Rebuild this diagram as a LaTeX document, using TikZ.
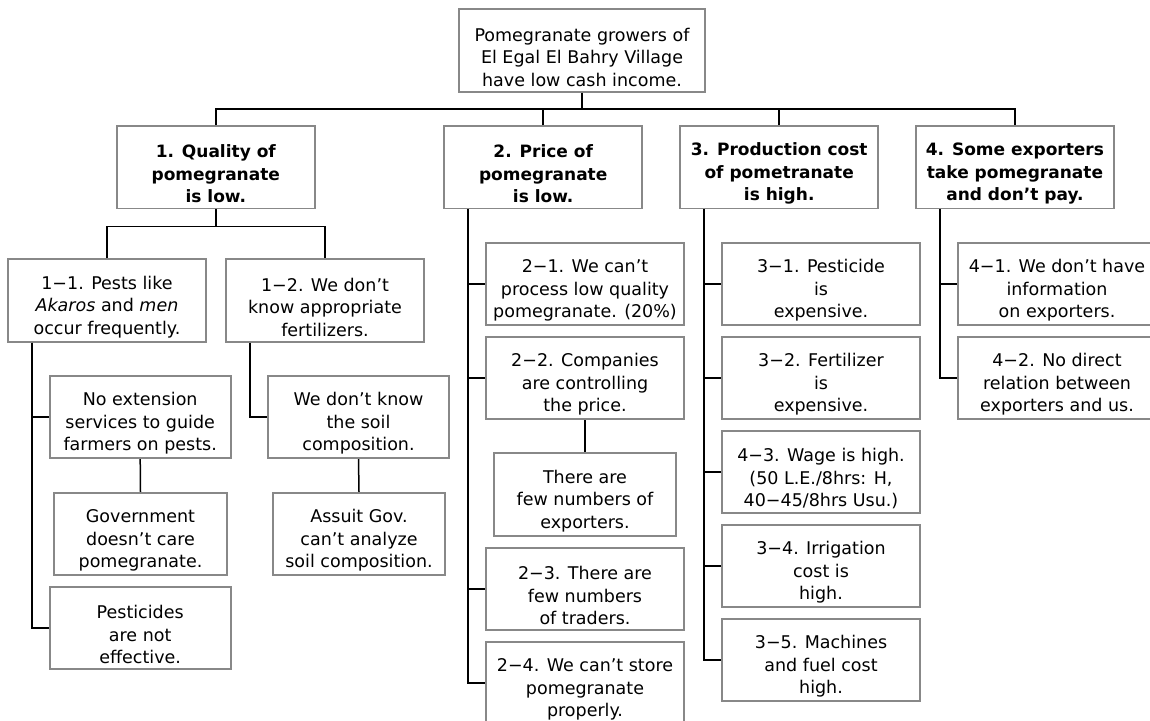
\documentclass[tikz,border=0pt]{standalone}
\usepackage{fontspec}
\setmainfont{DejaVu Sans}
\definecolor{boxgray}{RGB}{136,136,136}
\tikzset{
  box/.style={draw=boxgray, line width=1.7pt, fill=white, inner sep=0pt,
    minimum width=198pt, minimum height=82.5pt},
  txt/.style={align=center, inner sep=0pt, font=\fontsize{17.5}{22.5}\selectfont},
  headtxt/.style={txt, font=\fontsize{17}{22.5}\selectfont\bfseries},
  conn/.style={draw=black, line width=1.5pt}
}
% \tb[box options]{name}{position}{text style}{text}
\newcommand\tb[5][]{%
  \node[box,#1] (#2) at (#3) {};
  \node[#4] (#2-t) at ([yshift=-6.5pt]#2.center) {#5};}
\begin{document}
\begin{tikzpicture}[x=1pt,y=-1pt]
\useasboundingbox (0,0) rectangle (1150,720);
\clip (0,0) rectangle (1150,720);
% top
\tb[minimum width=246.6pt]{top}{582,50.5}{txt}{Pomegranate growers of\\El Egal El Bahry Village\\have low cash income.}
% level 1
\tb{b1}{215.8,167.2}{headtxt}{1. Quality of\\pomegranate\\is low.}
\tb{b2}{543.2,167.2}{headtxt}{2. Price of\\pomegranate\\is low.}
\tb{b3}{779.2,167.2}{headtxt}{3. Production cost\\of pometranate\\is high.}
\tb{b4}{1014.9,167.2}{headtxt}{4. Some exporters\\take pomegranate\\and don’t pay.}
% branch 1
\tb{c11}{107,300.5}{txt}{1−1. Pests like\\\textit{Akaros} and \textit{men}\\occur frequently.}
\tb{c12}{325,300.5}{txt}{1−2. We don’t\\know appropriate\\fertilizers.}
\tb[minimum width=181pt]{ext}{140.2,417}{txt}{No extension\\services to guide\\farmers on pests.}
\tb[minimum width=173pt]{gov}{140.5,534}{txt}{Government\\doesn’t care\\pomegranate.}
\tb[minimum width=181pt]{pest}{140.2,628}{txt}{Pesticides\\are not\\effective.}
\tb[minimum width=181pt]{soil}{358.5,417}{txt}{We don’t know\\the soil\\composition.}
\tb[minimum width=172pt]{assuit}{359,534}{txt}{Assuit Gov.\\can’t analyze\\soil composition.}
% branch 2
\tb{c21}{585,284}{txt}{2−1. We can’t\\process low quality\\pomegranate. (20\%)}
\tb{c22}{585,378}{txt}{2−2. Companies\\are controlling\\the price.}
\tb[minimum width=182pt]{exp}{585,494.5}{txt}{There are\\few numbers of\\exporters.}
\tb{c23}{585,589}{txt}{2−3. There are\\few numbers\\of traders.}
\tb{c24}{585,683}{txt}{2−4. We can’t store\\pomegranate\\properly.}
% branch 3
\tb{c31}{821,284}{txt}{3−1. Pesticide\\is\\expensive.}
\tb{c32}{821,378}{txt}{3−2. Fertilizer\\is\\expensive.}
\tb{c33}{821,472}{txt}{4−3. Wage is high.\\(50 L.E./8hrs: H,\\40−45/8hrs Usu.)}
\tb{c34}{821,566}{txt}{3−4. Irrigation\\cost is\\high.}
\tb{c35}{821,660}{txt}{3−5. Machines\\and fuel cost\\high.}
% branch 4
\tb{c41}{1057,284}{txt}{4−1. We don’t have\\information\\on exporters.}
\tb{c42}{1057,378}{txt}{4−2. No direct\\relation between\\exporters and us.}
% connectors
\draw[conn] (top.south) -- ++(0,16.6) coordinate (j0);
\draw[conn] (b1.north) |- (j0);
\draw[conn] (b2.north) |- (j0);
\draw[conn] (b3.north) |- (j0) -- (b4.north |- j0) -- (b4.north);
\draw[conn] (b1.south) -- ++(0,17.4) coordinate (j1);
\draw[conn] (c11.north) |- (j1) -| (c12.north);
\draw[conn] ([xshift=-75pt]c11.south) |- (ext.west);
\draw[conn] ([xshift=-75pt]c11.south) |- (pest.west);
\draw[conn] (ext.south) -- (gov.north);
\draw[conn] ([xshift=-75pt]c12.south) |- (soil.west);
\draw[conn] (soil.south) -- (assuit.north);
\foreach \c in {c21,c22,c23,c24} \draw[conn] ([xshift=-75pt]b2.south) |- (\c.west);
\draw[conn] (c22.south) -- (exp.north);
\foreach \c in {c31,c32,c33,c34,c35} \draw[conn] ([xshift=-75pt]b3.south) |- (\c.west);
\foreach \c in {c41,c42} \draw[conn] ([xshift=-75pt]b4.south) |- (\c.west);
\end{tikzpicture}
\end{document}
